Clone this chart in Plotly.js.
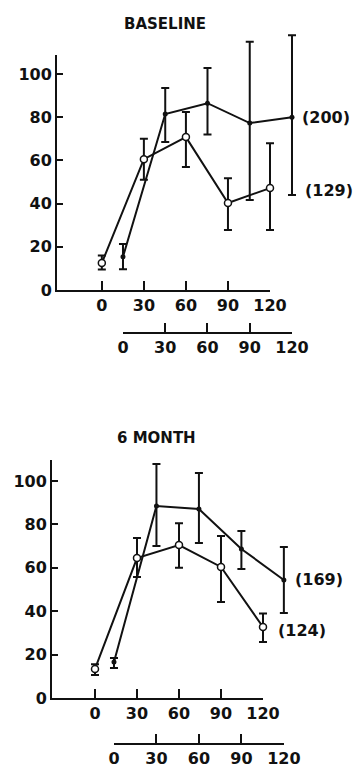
<!DOCTYPE html>
<html>
<head>
<meta charset="utf-8">
<script src="https://cdn.plot.ly/plotly-3.0.1.min.js"></script>
<style>html,body{margin:0;padding:0;background:#fff;}#chart{width:363px;height:774px;}</style>
</head>
<body>
<div id="chart"></div>
<script>
// Time points (minutes)
const minutes = [0, 30, 60, 90, 120];
const tickLabels = ['0', '30', '60', '90', '120'];
const yTicks = [0, 20, 40, 60, 80, 100];

// Baseline panel
const baseOpen = [12.5, 60.6, 70.8, 40.3, 47.2];      // (129)
const baseOpenHi = [16, 70, 82.4, 51.8, 68];
const baseOpenLo = [9.5, 51, 57, 27.8, 27.8];
const baseFilled = [15.4, 81.5, 86.5, 77.3, 80];      // (200)
const baseFilledHi = [21.3, 93.5, 102.8, 115, 118];
const baseFilledLo = [9.6, 68.5, 72, 41.7, 44];

// 6 month panel
const sixOpen = [13.4, 64.5, 70.5, 60.4, 32.7];       // (124)
const sixOpenHi = [15.5, 73.7, 80.6, 74.7, 39];
const sixOpenLo = [10.6, 55.8, 60, 44.2, 25.8];
const sixFilled = [16.6, 88.5, 87.1, 68.7, 54.4];     // (169)
const sixFilledHi = [18.4, 107.8, 103.7, 77, 69.6];
const sixFilledLo = [13.8, 70, 71.4, 59.4, 39.2];

const seriesLabels = ['(129)', '(200)', '(124)', '(169)'];
const panelTitles = ['BASELINE', '6 MONTH'];

const FONT = 'DejaVu Sans';
const INK = '#111';

function trace(xs, ys, hi, lo, xa, ya, open) {
  return {
    type: 'scatter', mode: 'lines+markers', x: xs, y: ys, xaxis: xa, yaxis: ya,
    cliponaxis: false, showlegend: false,
    line: {color: INK, width: 2},
    marker: open ? {symbol: 'circle', size: 7, color: '#fff', line: {color: INK, width: 1.5}}
                 : {symbol: 'circle', size: 5, color: INK},
    error_y: {type: 'data', symmetric: false,
      array: hi.map((h, i) => h - ys[i]), arrayminus: lo.map((l, i) => ys[i] - l),
      color: INK, thickness: 2, width: 4}
  };
}

const data = [
  trace(minutes, baseOpen, baseOpenHi, baseOpenLo, 'x', 'y', true),
  trace(minutes, baseFilled, baseFilledHi, baseFilledLo, 'x2', 'y', false),
  trace(minutes, sixOpen, sixOpenHi, sixOpenLo, 'x3', 'y2', true),
  trace(minutes, sixFilled, sixFilledHi, sixFilledLo, 'x4', 'y2', false)
];

const tickfont = {family: FONT, size: 16, color: INK, weight: 'bold'};
function xAxis(domain, range, extra) {
  return Object.assign({domain: domain, range: range, tickvals: minutes, ticktext: tickLabels,
    showgrid: false, zeroline: false, showline: true, linecolor: INK, linewidth: 2,
    ticks: 'inside', ticklen: 9, tickwidth: 2, tickcolor: INK, tickfont: tickfont, fixedrange: true}, extra);
}
function yAxis(domain, range, anchor) {
  return {domain: domain, range: range, anchor: anchor, tickvals: yTicks,
    showgrid: false, zeroline: false, showline: true, linecolor: INK, linewidth: 2,
    ticks: 'inside', ticklen: 6, tickwidth: 2, tickcolor: INK, tickfont: tickfont, fixedrange: true};
}

const last = minutes.length - 1;
const labFont = {family: FONT, size: 16, color: INK, weight: 'bold'};
function lab(text, xref, yref, xv, yv, xshift, yshift) {
  return {text: text, xref: xref, yref: yref, x: xv, y: yv, xanchor: 'left', yanchor: 'middle',
    xshift: xshift, yshift: yshift, showarrow: false, font: labFont};
}

const layout = {
  width: 363, height: 774, margin: {l: 0, r: 0, t: 0, b: 0},
  paper_bgcolor: '#fff', plot_bgcolor: 'rgba(0,0,0,0)', showlegend: false,
  xaxis: xAxis([0.157, 0.7438], [-32, 120], {anchor: 'y'}),
  yaxis: yAxis([0.6253, 0.9289], [0, 108.8], 'x'),
  xaxis2: xAxis([0.3388, 0.8044], [0, 120], {anchor: 'free', position: 0.5698}),
  xaxis3: xAxis([0.1433, 0.7245], [-30.7, 120], {anchor: 'y2'}),
  yaxis2: yAxis([0.0982, 0.4057], [0, 109.7], 'x3'),
  xaxis4: xAxis([0.314, 0.782], [0, 120], {anchor: 'free', position: 0.0388}),
  annotations: [
    {text: panelTitles[0], xref: 'paper', yref: 'paper', x: 0.4545, y: 0.969, showarrow: false,
     xanchor: 'center', yanchor: 'middle', font: {family: FONT, size: 15, color: INK, weight: 'bold'}},
    {text: panelTitles[1], xref: 'paper', yref: 'paper', x: 0.4325, y: 0.4341, showarrow: false,
     xanchor: 'center', yanchor: 'middle', font: {family: FONT, size: 15, color: INK, weight: 'bold'}},
    lab(seriesLabels[0], 'x', 'y', minutes[last], baseOpen[last], 33, -2),
    lab(seriesLabels[1], 'x2', 'y', minutes[last], baseFilled[last], 8, 0),
    lab(seriesLabels[2], 'x3', 'y2', minutes[last], sixOpen[last], 13, -3),
    lab(seriesLabels[3], 'x4', 'y2', minutes[last], sixFilled[last], 9, 0)
  ]
};

const gd = document.getElementById('chart');
Plotly.newPlot(gd, data, layout, {staticPlot: true, displayModeBar: false}).then(function () {
  // let error bars and edge markers extend past the axis box, as in the original figure
  gd.querySelectorAll('.cartesianlayer [clip-path]').forEach(function (el) {
    el.removeAttribute('clip-path');
  });
});
</script>
</body>
</html>
